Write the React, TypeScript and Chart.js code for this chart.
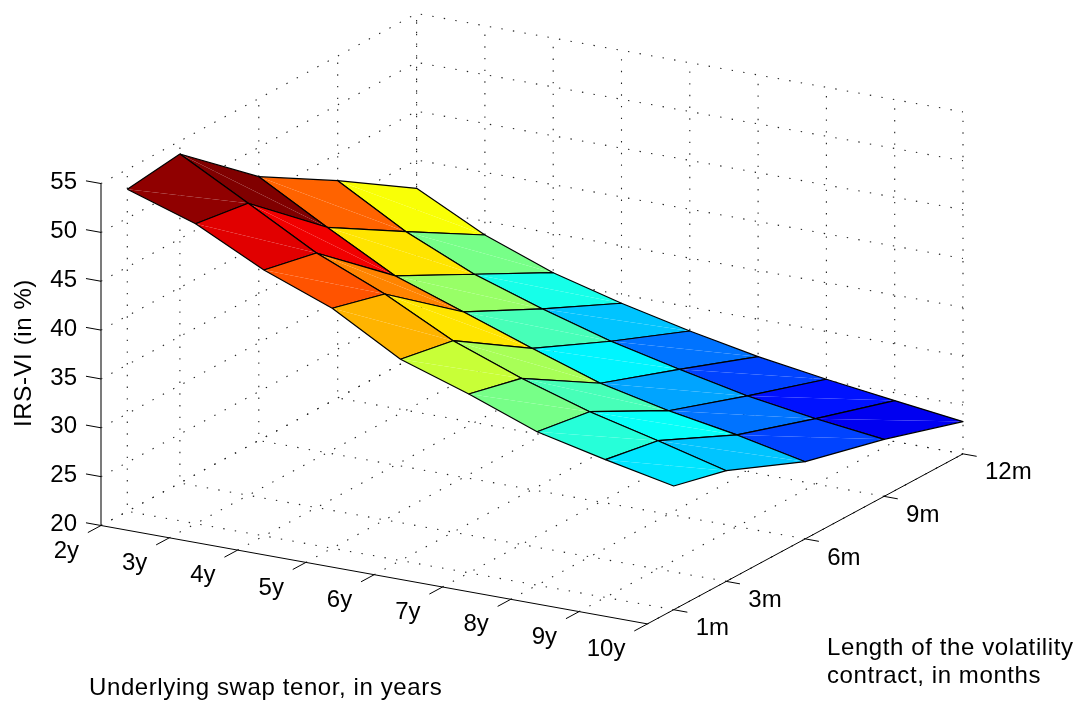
import React, { useEffect, useRef } from "react";
import { Chart, registerables } from "chart.js";

Chart.register(...registerables);

// Axes
const tenors = [2, 3, 4, 5, 6, 7, 8, 9, 10];
const contracts = [1, 3, 6, 9, 12];
const zTicks = [20, 25, 30, 35, 40, 45, 50, 55];
const tenorLabels = ["2y", "3y", "4y", "5y", "6y", "7y", "8y", "9y", "10y"];
const contractLabels = ["1m", "3m", "6m", "9m", "12m"];

// IRS-VI (in %), one series per contract length, indexed by tenor 2y..10y
const iv1m = [52.96, 50.7, 47.22, 44.56, 40.6, 38.3, 35.7, 34.1, 32.66];
const iv3m = [53.67, 49.89, 46.06, 43.12, 39.6, 37.01, 34.85, 33.14, 31.33];
const iv6m = [47.0, 43.08, 39.36, 36.93, 34.47, 32.15, 30.6, 29.38, 27.9];
const iv9m = [42.24, 38.28, 35.18, 32.89, 30.84, 29.23, 27.76, 26.69, 25.84];
const iv12m = [37.11, 33.59, 30.99, 29.12, 27.54, 26.17, 25.12, 24.19, 23.3];
const surface = [iv1m, iv3m, iv6m, iv9m, iv12m];

// Orthographic view of the MATLAB box
const view = {
  ox: 101, oy: 525.5,
  xx: 68.3, xy: 12.3,
  yx: 26.3, yy: -14.17,
  zy: -9.77,
};
const X0 = 2, X1 = 10, Y0 = 0, Y1 = 12, Z0 = 20, Z1 = 55;

function project(x: number, y: number, z: number) {
  return {
    x: view.ox + view.xx * (x - X0) + view.yx * y,
    y: view.oy + view.xy * (x - X0) + view.yy * y + view.zy * (z - Z0),
  };
}

// MATLAB's 64-level jet colormap
function jet(t: number) {
  const s = Math.min(63, Math.floor(t * 64)) / 63;
  const c = (v: number) => Math.round(255 * Math.max(0, Math.min(1, v)));
  const r = c(Math.min(4 * s - 1.5, -4 * s + 4.5));
  const g = c(Math.min(4 * s - 0.5, -4 * s + 3.5));
  const b = c(Math.min(4 * s + 0.5, -4 * s + 2.5));
  return `rgb(${r},${g},${b})`;
}

const polyline = (pts: number[][], extra: any = {}) => ({
  data: pts.map(([x, y, z]) => project(x, y, z)),
  showLine: true,
  pointRadius: 0,
  tension: 0,
  fill: false,
  borderColor: "#000",
  borderWidth: 1,
  ...extra,
});

function buildDatasets() {
  const grid = { borderDash: [1.4, 10.3], borderColor: "#222", borderWidth: 1.1 };
  const axis = { borderColor: "#000", borderWidth: 1 };
  const drawn: any[] = [];

  // walls and floor grid
  for (const z of zTicks) {
    drawn.push(polyline([[X0, Y0, z], [X0, Y1, z], [X1, Y1, z]], grid));
  }
  for (const x of tenors) {
    drawn.push(polyline([[x, Y0, Z0], [x, Y1, Z0], [x, Y1, Z1]], grid));
  }
  for (const y of contracts) {
    drawn.push(polyline([[X1, y, Z0], [X0, y, Z0], [X0, y, Z1]], grid));
  }

  // surface, back to front
  const all = surface.flat();
  const lo = Math.min(...all);
  const hi = Math.max(...all);
  for (let j = contracts.length - 2; j >= 0; j--) {
    for (let i = 0; i < tenors.length - 1; i++) {
      const a = [tenors[i], contracts[j], surface[j][i]];
      const b = [tenors[i + 1], contracts[j], surface[j][i + 1]];
      const c = [tenors[i + 1], contracts[j + 1], surface[j + 1][i + 1]];
      const d = [tenors[i], contracts[j + 1], surface[j + 1][i]];
      const color = jet((a[2] - lo) / (hi - lo));
      const face = { fill: "shape", backgroundColor: color, borderWidth: 0 };
      drawn.push(polyline([a, b, c], face));
      drawn.push(polyline([a, c, d], face));
      drawn.push(polyline([a, b, c, d, a], { borderWidth: 1.2, borderJoinStyle: "round" }));
    }
  }

  // axes and ticks
  drawn.push(polyline([[X0, Y0, Z0], [X0, Y0, Z1]], { borderColor: "#333", borderWidth: 1.3 }));
  drawn.push(polyline([[X0, Y0, Z0], [X1, Y0, Z0]], axis));
  drawn.push(polyline([[X1, Y0, Z0], [X1, Y1, Z0]], axis));
  for (const z of zTicks) drawn.push(polyline([[X0, Y0, z], [X0 - 0.22, Y0, z]], axis));
  for (const x of tenors) drawn.push(polyline([[x, Y0, Z0], [x, Y0 - 0.5, Z0]], axis));
  for (const y of contracts) drawn.push(polyline([[X1, y, Z0], [X1 + 0.2, y, Z0]], axis));

  // Chart.js paints the last dataset first: reverse so the list reads back to front
  return drawn.reverse();
}

const textPlugin = {
  id: "axisText",
  afterDraw(chart: any) {
    const { ctx, scales } = chart;
    const at = (x: number, y: number, z: number) => {
      const p = project(x, y, z);
      return { x: scales.x.getPixelForValue(p.x), y: scales.y.getPixelForValue(p.y) };
    };
    ctx.save();
    ctx.fillStyle = "#000";
    ctx.textBaseline = "middle";
    ctx.font = "24px 'Liberation Sans'";

    ctx.textAlign = "right";
    zTicks.forEach((z) => {
      const p = at(X0, Y0, z);
      ctx.fillText(String(z), p.x - 24, p.y - 1);
    });
    tenors.forEach((x, i) => {
      const p = at(x, Y0, Z0);
      ctx.fillText(tenorLabels[i], p.x - 22, p.y + 25.5);
    });
    ctx.textAlign = "left";
    contracts.forEach((y, i) => {
      const p = at(X1, y, Z0);
      ctx.fillText(contractLabels[i], p.x + 22, p.y + 19);
    });

    ctx.letterSpacing = "0.6px";
    ctx.fillText("Underlying swap tenor, in years", 89, 688);
    ctx.fillText("Length of the volatility", 827, 648);
    ctx.fillText("contract, in months", 827, 676);

    ctx.translate(24, 353);
    ctx.rotate(-Math.PI / 2);
    ctx.textAlign = "center";
    ctx.fillText("IRS-VI (in %)", 0, 0);
    ctx.restore();
  },
};

export default function App() {
  const ref = useRef<HTMLCanvasElement>(null);
  useEffect(() => {
    const chart = new Chart(ref.current as HTMLCanvasElement, {
      type: "scatter",
      data: { datasets: buildDatasets() },
      options: {
        animation: false,
        responsive: false,
        layout: { padding: 0 },
        plugins: { legend: { display: false }, tooltip: { enabled: false }, title: { display: false } },
        scales: {
          x: { type: "linear", min: 0, max: 1084, display: false },
          y: { type: "linear", min: 0, max: 702, reverse: true, display: false },
        },
      },
      plugins: [textPlugin],
    } as any);
    return () => chart.destroy();
  }, []);
  return (
    <div style={{ position: "fixed", left: 0, top: 0, width: 1084, height: 702, background: "#fff" }}>
      <canvas ref={ref} width={1084} height={702} style={{ display: "block" }} />
    </div>
  );
}
